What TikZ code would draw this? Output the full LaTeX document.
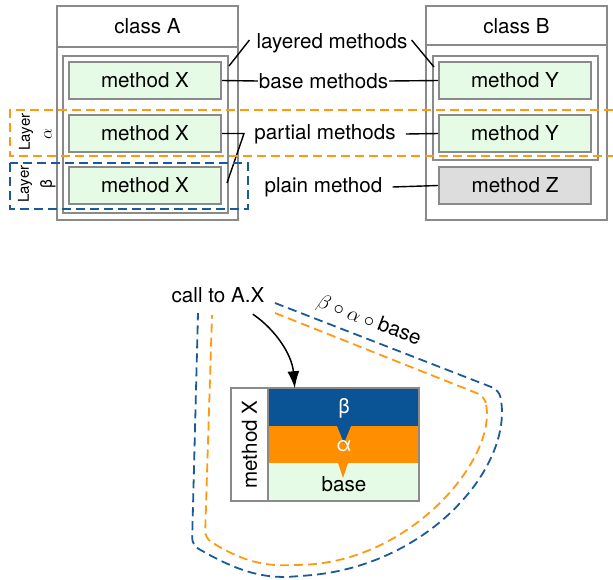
\documentclass[tikz,border=0pt]{standalone}
\usepackage{fontspec}
\setmainfont{TeX Gyre Heros}
\usetikzlibrary{arrows.meta,calc}
\definecolor{boxgrey}{HTML}{8A8A8A}
\definecolor{mgreen}{HTML}{E6FBE6}
\definecolor{mgrey}{HTML}{DDDDDD}
\definecolor{bandblue}{HTML}{0A5394}
\definecolor{bandorange}{HTML}{FF8F00}
\definecolor{dblue}{HTML}{1A5A9A}
\definecolor{dorange}{HTML}{FF9A10}
\begin{document}
\begin{tikzpicture}[x=1pt,y=-1pt,
  bigfont/.style={font=\fontsize{20.6}{24}\selectfont},
  smallfont/.style={font=\fontsize{15}{18}\selectfont},
  classbox/.style={draw=boxgrey,line width=2,fill=white,minimum width=181,minimum height=214,inner sep=0},
  innerbox/.style={draw=boxgrey,line width=2,minimum width=165,inner sep=0},
  methbox/.style={draw=boxgrey,line width=2,fill=mgreen,minimum width=152,minimum height=37,inner sep=0,bigfont},
  plainbox/.style={methbox,fill=mgrey},
  lbl/.style={bigfont,inner sep=1},
  conn/.style={line width=1.4,black},
  odash/.style={draw=dorange,line width=1.8,dash pattern=on 9pt off 5pt},
  bdash/.style={draw=dblue,line width=1.8,dash pattern=on 9pt off 5pt},
  band/.style={minimum width=151,minimum height=37.7,inner sep=0,draw=none}
]
\useasboundingbox (0,0) rectangle (613,579);

% ---------- class A ----------
\node[classbox] (classA) at (147.5,113) {};
\draw[boxgrey,line width=2] (57,47) -- (238,47);
\node[bigfont] (classAlbl) at (147.5,26) {class A};
\node[innerbox,minimum height=157] (innerA) at (145.5,134.5) {};
\node[methbox] (X1) at (145,80.5) {method X};
\node[methbox] (X2) at (145,133.5) {method X};
\node[methbox] (X3) at (145,185.5) {method X};

% ---------- class B ----------
\node[classbox] (classB) at (516.5,113) {};
\draw[boxgrey,line width=2] (426,45) -- (607,45);
\node[bigfont] (classBlbl) at (516.5,26) {class B};
\node[innerbox,minimum height=104] (innerB) at (515.5,108) {};
\node[methbox] (Y1) at (515,80.5) {method Y};
\node[methbox] (Y2) at (515,133.5) {method Y};
\node[plainbox] (Z) at (515,185.5) {method Z};

% ---------- labels ----------
\node[lbl] (lLayered) at (332,43) {layered methods};
\node[lbl] (lBase) at (323.5,81) {base methods};
\node[lbl] (lPartial) at (325,134) {partial methods};
\node[lbl] (lPlain) at (323.5,187) {plain method};

\draw[conn] ([xshift=-6,yshift=3]lLayered.west) -- ([yshift=-11]innerA.north east);
\draw[conn] ([xshift=3,yshift=3]lLayered.east) -- ([xshift=2,yshift=-12]innerB.north west);
\draw[conn] (X1.east) -- (lBase.west);
\draw[conn] (lBase.east) -- (Y1.west);
\draw[conn] (X2.east) -- ++(22,0) coordinate (pv) -- ([xshift=5,yshift=2.5]X3.east);
\draw[conn] ([xshift=9]lPartial.east) -- (Y2.west);
\draw[conn] ([xshift=9]lPlain.east) -- (Z.west);

% ---------- layers ----------
\node[smallfont,rotate=90] (layA) at (26,132) {Layer};
\node[font=\fontsize{18}{20}\selectfont,rotate=90] (layAg) at (48,134) {$\alpha$};
\node[smallfont,rotate=90] (layB) at (25,184) {Layer};
\node[font=\fontsize{16}{19}\selectfont,rotate=90] (layBg) at (48,184) {β};
\draw[odash] (613,110) -- (10,110) -- (10,156) -- (613,156);
\draw[bdash] (10,163) rectangle (248,209);

% ---------- bottom ----------
\node[bigfont] (call) at (218,295) {call to A.X};
\node[band,fill=bandblue] (bb) at (343.5,407.3) {};
\node[band,fill=bandorange] (ob) at (343.5,445) {};
\node[band,fill=mgreen] (gb) at (343.5,482.2) {};
\fill[bandblue] (337,426) -- (351,426) -- (344,443) -- cycle;
\fill[bandorange] (338,463) -- (348,463) -- (343,478) -- cycle;
\node[bigfont,text=white] (bl) at (344,408) {β};
\node[bigfont,text=white] (al) at (344,446) {α};
\node[bigfont] (basel) at (344,484) {base};
\node[draw=boxgrey,line width=2,minimum width=37,minimum height=113,inner sep=0,fill=white] (mcol) at (249.5,444.5) {};
\node[bigfont,rotate=90] (mcoll) at (249.5,444.5) {method X};
\draw[boxgrey,line width=2] (231,388) rectangle (419,501);

\coordinate (as) at ([xshift=-15,yshift=-8]call.south east);
\coordinate (ae) at ([xshift=27]bb.north west);
\draw[line width=1.5,-{Latex[length=17,width=12]}] (as) .. controls (276,330) and (292,355) .. (ae);

\draw[bdash,rounded corners=7] (275,303) -- (499,390) -- (502,405)
   .. controls (502,480) and (420,567) .. (300,576)
   .. controls (262,579) and (235,570) .. (192,545) -- (198,313);
\draw[odash,rounded corners=7] (275,313) -- (484,396) -- (487,407)
   .. controls (487,470) and (405,562) .. (295,565)
   .. controls (262,566) and (240,560) .. (205,538) -- (212,315);
\node[bigfont,rotate=-21] (comp) at (369,321) {$\beta\circ\alpha\circ{}$base};
\end{tikzpicture}
\end{document}
